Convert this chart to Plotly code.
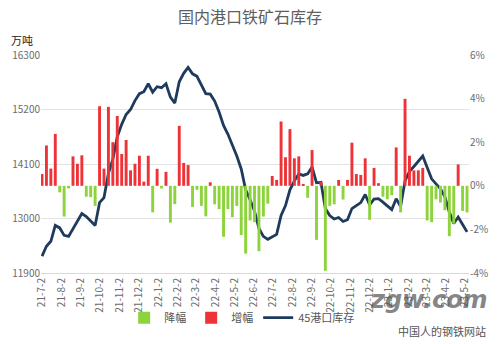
import pandas as pd
import plotly.graph_objects as go

# weekly dates (Fridays) from 2021-07-02
dates = pd.date_range("2021-07-02", periods=97, freq="7D")

# 45港口库存 (万吨)
stock = [
    12240, 12440, 12540, 12860, 12810, 12660, 12640, 12800, 12950, 13100,
    13040, 12950, 12860, 13320, 13420, 13910, 14200, 14650, 14900, 15100,
    15200, 15380, 15520, 15560, 15720, 15550, 15660, 15640, 15720, 15450,
    15330, 15760, 15930, 16050, 15920, 15870, 15700, 15520, 15510, 15370,
    15150, 14880, 14700, 14480, 14260, 14000, 13580, 13380, 13150, 12800,
    12640, 12580, 12630, 12680, 13060, 13260, 13580, 13760, 13900, 13870,
    13900, 14040, 13720, 13730, 13200, 13060, 12990, 13020, 12940, 12975,
    13200, 13260, 13320, 13485, 13275, 13390, 13400, 13330, 13250, 13180,
    13400, 13240, 13760, 13950, 14050, 14150, 14260, 14030, 13800, 13700,
    13600, 13440, 13130, 12900, 13030, 12880, 12730,
]

# weekly change (%)
change = [
    0.54, 1.85, 0.79, 2.38, -0.30, -1.41, -0.12, 1.35, 1.01, 1.40,
    -0.50, -0.52, -0.92, 3.65, 0.79, 3.62, 2.00, 3.20, 1.46, 2.10,
    0.71, 1.01, 1.38, 0.19, 1.38, -1.22, 0.78, -0.12, 0.64, -1.69,
    -0.84, 2.75, 1.05, 0.95, -0.97, -0.18, -0.92, -1.40, 0.16, -0.85,
    -1.07, -2.34, -1.07, -1.44, -0.92, -2.26, -3.11, -1.59, -1.67, -3.00,
    -1.41, -0.82, 0.45, 0.27, 2.95, 1.31, 2.60, 1.26, 1.35, 0.08,
    -0.55, 1.64, -2.48, 0.19, -3.90, -0.92, -0.85, 0.27, -0.63, 0.27,
    1.98, 0.54, 0.50, 1.26, -1.56, 0.82, 0.12, -0.50, -0.62, -0.43,
    1.76, -1.22, 3.99, 1.38, 0.71, 0.71, 0.82, -1.59, -1.67, -0.62,
    -0.77, -1.12, -2.31, -1.74, 0.98, -1.15, -1.22,
]

tick_labels = [
    "21-7-2", "21-8-2", "21-9-2", "21-10-2", "21-11-2", "21-12-2",
    "22-1-2", "22-2-2", "22-3-2", "22-4-2", "22-5-2", "22-6-2",
    "22-7-2", "22-8-2", "22-9-2", "22-10-2", "22-11-2", "22-12-2",
    "23-1-2", "23-2-2", "23-3-2", "23-4-2", "23-5-2",
]
tick_vals = [pd.Timestamp(2000 + int(t.split("-")[0]), int(t.split("-")[1]), int(t.split("-")[2])) for t in tick_labels]

left_ticks = [11900, 13000, 14100, 15200, 16300]
right_ticks = [-4, -2, 0, 2, 4, 6]

neg = [c if c < 0 else None for c in change]
pos = [c if c >= 0 else None for c in change]

FONT = "Noto Sans CJK SC, Noto Sans, sans-serif"
GREEN = "#8DD43C"
RED = "#EE3338"
NAVY = "#1E3A5C"
GREY = "#6b6b6b"

bar_w = 4.6 * 86400000

fig = go.Figure()
fig.add_trace(go.Bar(x=dates, y=neg, name="降幅", marker=dict(color=GREEN, line=dict(width=0)),
                     width=bar_w, yaxis="y2"))
fig.add_trace(go.Bar(x=dates, y=pos, name="增幅", marker=dict(color=RED, line=dict(width=0)),
                     width=bar_w, yaxis="y2"))
fig.add_trace(go.Scatter(x=dates, y=stock, name="45港口库存", mode="lines",
                         line=dict(color=NAVY, width=2.8)))

fig.update_layout(
    width=500, height=344,
    margin=dict(l=40, r=28, t=55, b=65),
    paper_bgcolor="white", plot_bgcolor="white",
    font=dict(family=FONT, size=10, color=GREY),
    barmode="overlay",
    title=dict(text="国内港口铁矿石库存", x=0.5, xanchor="center", y=0.948, yanchor="middle",
               font=dict(family=FONT, size=16, color="#5e5e5e")),
    showlegend=True,
    legend=dict(orientation="h", x=0.47, xanchor="center", y=-0.205, yanchor="middle",
                font=dict(family=FONT, size=11, color="#555555"),
                traceorder="normal", itemwidth=30, bgcolor="rgba(0,0,0,0)"),
    xaxis=dict(type="date", range=["2021-06-30 10:00", "2023-05-08 03:00"],
               tickvals=tick_vals, ticktext=tick_labels, tickangle=-90,
               tickfont=dict(size=10, color=GREY), showgrid=False,
               showline=True, linecolor="#d9d9d9", linewidth=1, ticks="", zeroline=False),
    yaxis=dict(range=[11900, 16300], tickvals=left_ticks, ticktext=[str(v) for v in left_ticks],
               showgrid=True, gridcolor="#e3e3e3", gridwidth=1, zeroline=False,
               tickfont=dict(size=10, color=GREY), ticks="", showline=False),
    yaxis2=dict(range=[-4, 6], tickvals=right_ticks, ticktext=[f"{v}%" for v in right_ticks],
                overlaying="y", side="right", showgrid=False, zeroline=False,
                tickfont=dict(size=10, color=GREY), ticks="", showline=False),
)

fig.add_annotation(text="万吨", xref="paper", yref="paper", x=-0.045, y=1.07,
                   xanchor="center", yanchor="middle", showarrow=False,
                   font=dict(family=FONT, size=11, color="#222222"))

# watermark
fig.add_annotation(text="<b><i>zgw.com</i></b>", xref="paper", yref="paper", x=1.05, y=-0.125,
                   xanchor="right", yanchor="middle", showarrow=False,
                   font=dict(family="DejaVu Sans, sans-serif", size=24, color="rgba(80,80,80,0.7)"))
fig.add_annotation(text="中国人的钢铁网站", xref="paper", yref="paper", x=1.045, y=-0.265,
                   xanchor="right", yanchor="middle", showarrow=False,
                   font=dict(family=FONT, size=11, color="#555555"))

fig.write_html("out.html")
